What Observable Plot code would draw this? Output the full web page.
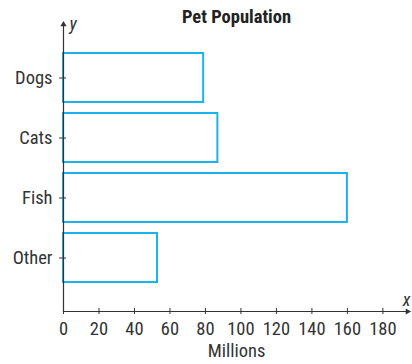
<!DOCTYPE html>
<html>
<head>
<meta charset="utf-8">
<script src="https://cdn.jsdelivr.net/npm/d3@7"></script>
<script src="https://cdn.jsdelivr.net/npm/@observablehq/plot@0.6"></script>
<style>
  html, body { margin: 0; padding: 0; background: #fff; }
</style>
</head>
<body>
<div id="chart"></div>
<script>
const pets = ["Dogs", "Cats", "Fish", "Other"];
const millions = [79, 87, 160, 53];
const xTicks = [0, 20, 40, 60, 80, 100, 120, 140, 160, 180];
const titleText = "Pet Population";
const xTitle = "Millions";

const data = pets.map((p, i) => ({pet: p, value: millions[i]}));
const FONT = "'Liberation Sans Narrow', 'Roboto Condensed', Roboto, sans-serif";
const ink = "#333";
const blue = "#1ab2ea";

const chart = Plot.plot({
  width: 412,
  height: 364,
  marginLeft: 63,
  marginRight: 3,
  marginTop: 24,
  marginBottom: 53,
  style: {fontFamily: FONT, color: ink, background: "#fff"},
  x: {domain: [0, 195]},
  y: {domain: pets, paddingInner: 0.18, paddingOuter: 0.443},
  marks: [
    Plot.barX(data, {x: "value", y: "pet", fill: "white", stroke: blue, strokeWidth: 2}),
    Plot.frame({anchor: "left", stroke: ink, strokeWidth: 1.2}),
    Plot.frame({anchor: "bottom", stroke: ink, strokeWidth: 1.2}),
    Plot.axisX({ticks: xTicks, tickSize: 6, dy: -3, tickPadding: 7, fontSize: 18.5, label: null, stroke: ink, fill: ink, tickFormat: d => String(d)}),
    Plot.axisY({tickSize: 7, dx: 3, tickPadding: 7, fontSize: 18.5, label: null, stroke: ink, fill: ink}),
    Plot.dot([0], {frameAnchor: "top-left", symbol: "triangle", r: 2.3, fill: ink, stroke: null, dy: 0}),
    Plot.dot([0], {frameAnchor: "bottom-right", symbol: "triangle", rotate: 90, r: 2.3, fill: ink, stroke: null, dx: -2}),
    Plot.text([titleText], {frameAnchor: "top", text: d => d, dy: -2, lineAnchor: "bottom", fontSize: 18.5, fontWeight: "bold", fill: "#222"}),
    Plot.text([xTitle], {frameAnchor: "bottom", text: d => d, dy: 45, lineAnchor: "bottom", fontSize: 18.5, fill: ink}),
    Plot.text(["y"], {frameAnchor: "top-left", text: d => d, dx: 6, dy: 5, textAnchor: "start", lineAnchor: "bottom", fontSize: 18, fontStyle: "italic", fill: ink}),
    Plot.text(["x"], {frameAnchor: "bottom-right", text: d => d, dx: 1, dy: -6, textAnchor: "end", lineAnchor: "bottom", fontSize: 18, fontStyle: "italic", fill: ink})
  ]
});
document.getElementById("chart").appendChild(chart);
</script>
</body>
</html>
